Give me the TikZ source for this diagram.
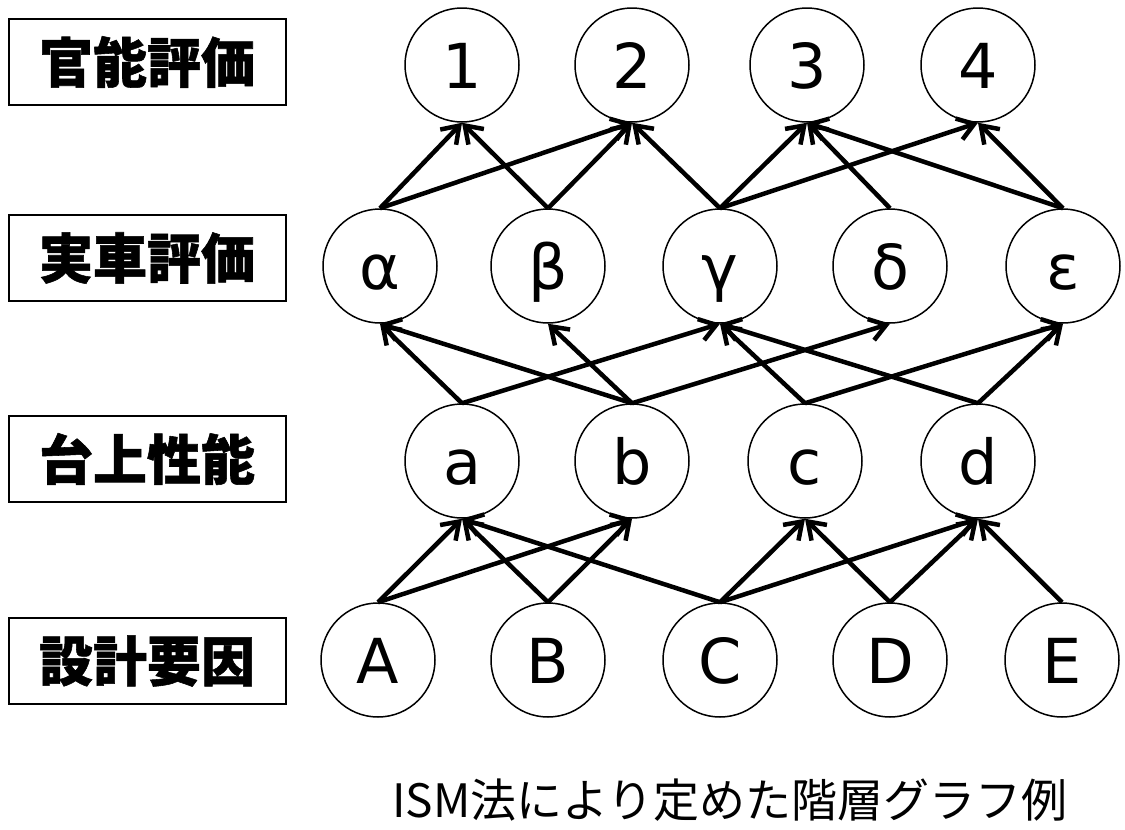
\documentclass[tikz,border=0pt]{standalone}
\usepackage{fontspec}
\setmainfont{DejaVu Sans}
\newfontfamily\jpfont{Noto Sans CJK JP}[BoldFeatures={FakeBold=1}]
\usetikzlibrary{arrows.meta}

\begin{document}
\begin{tikzpicture}[x=1pt,y=-1pt,
    lvl/.style={draw,line width=2pt,minimum width=277pt,minimum height=86pt,inner sep=0pt,
      font=\jpfont\bfseries\fontsize{54}{54}\selectfont},
    fac/.style={draw,circle,line width=1.5pt,minimum size=114pt,inner sep=0pt,
      text height=46pt,text depth=0pt,font=\fontsize{62}{62}\selectfont},
    link/.style={line width=4.5pt,-{Straight Barb[length=16pt,width=22pt,line width=4.5pt]}}]
  \useasboundingbox (0,0) rectangle (1125,830);
  % level labels
  \node[lvl] (sensory) at (147,62) {官能評価};
  \node[lvl] (vehicle) at (147,258) {実車評価};
  \node[lvl] (bench) at (147,459) {台上性能};
  \node[lvl] (design) at (147,661) {設計要因};
  % sensory evaluation
  \node[fac] (s1) at (462,65) {1};
  \node[fac] (s2) at (632,65) {2};
  \node[fac] (s3) at (807,65) {3};
  \node[fac] (s4) at (978,65) {4};
  % vehicle evaluation
  \node[fac] (va) at (380,266) {α};
  \node[fac] (vb) at (548,266) {β};
  \node[fac] (vg) at (720,266) {γ};
  \node[fac] (vd) at (890,266) {δ};
  \node[fac] (ve) at (1063,266) {ε};
  % bench performance
  \node[fac] (ba) at (462,461) {a};
  \node[fac] (bb) at (632,461) {b};
  \node[fac] (bc) at (805,461) {c};
  \node[fac] (bd) at (978,461) {d};
  % design factors
  \node[fac] (dA) at (378,660) {A};
  \node[fac] (dB) at (548,660) {B};
  \node[fac] (dC) at (720,660) {C};
  \node[fac] (dD) at (890,660) {D};
  \node[fac] (dE) at (1062,660) {E};
  % vehicle -> sensory
  \draw[link] (va.north) -- (s1.south);
  \draw[link] (va.north) -- (s2.south);
  \draw[link] (vb.north) -- (s1.south);
  \draw[link] (vb.north) -- (s2.south);
  \draw[link] (vg.north) -- (s2.south);
  \draw[link] (vg.north) -- (s3.south);
  \draw[link] (vg.north) -- (s4.south);
  \draw[link] (vd.north) -- (s3.south);
  \draw[link] (ve.north) -- (s3.south);
  \draw[link] (ve.north) -- (s4.south);
  % bench -> vehicle
  \draw[link] (ba.north) -- (va.south);
  \draw[link] (ba.north) -- (vg.south);
  \draw[link] (bb.north) -- (va.south);
  \draw[link] (bb.north) -- (vb.south);
  \draw[link] (bb.north) -- (vd.south);
  \draw[link] (bc.north) -- (vg.south);
  \draw[link] (bc.north) -- (ve.south);
  \draw[link] (bd.north) -- (vg.south);
  \draw[link] (bd.north) -- (ve.south);
  % design -> bench
  \draw[link] (dA.north) -- (ba.south);
  \draw[link] (dA.north) -- (bb.south);
  \draw[link] (dB.north) -- (ba.south);
  \draw[link] (dB.north) -- (bb.south);
  \draw[link] (dC.north) -- (ba.south);
  \draw[link] (dC.north) -- (bc.south);
  \draw[link] (dC.north) -- (bd.south);
  \draw[link] (dD.north) -- (bc.south);
  \draw[link] (dD.north) -- (bd.south);
  \draw[link] (dE.north) -- (bd.south);
  % caption
  \node[font=\jpfont\fontsize{46}{46}\selectfont] (caption) at (730,800) {ISM法により定めた階層グラフ例};
\end{tikzpicture}
\end{document}
